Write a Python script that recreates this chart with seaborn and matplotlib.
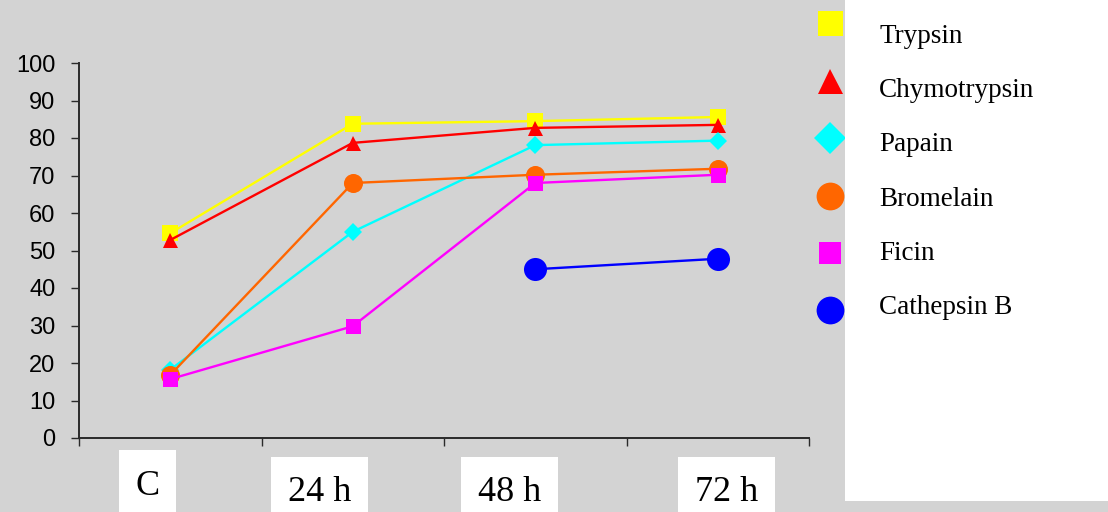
import numpy as np
import pandas as pd
import matplotlib
matplotlib.use("Agg")
import matplotlib.pyplot as plt
from matplotlib.patches import Rectangle
import seaborn as sns

# Time points and measured activity (%) per enzyme
categories = ["C", "24 h", "48 h", "72 h"]
trypsin = [54.6, 83.8, 84.5, 85.6]
chymotrypsin = [52.8, 78.7, 82.7, 83.5]
papain = [18.2, 55.0, 78.1, 79.3]
bromelain = [16.8, 68.0, 70.2, 71.8]
ficin = [15.7, 29.8, 68.0, 70.2]
cathepsin_b = [np.nan, np.nan, 45.0, 47.8]

enzymes = ["Trypsin", "Chymotrypsin", "Papain", "Bromelain", "Ficin", "Cathepsin B"]
series = [trypsin, chymotrypsin, papain, bromelain, ficin, cathepsin_b]
colors = ["#FFFF00", "#FF0000", "#00FFFF", "#FF6600", "#FF00FF", "#0000FF"]
markers = ["s", "^", "D", "o", "s", "o"]
plot_msize = [12.2, 10.8, 9.2, 13.7, 10.8, 16.6]
legend_msize = [18, 18, 15.8, 20, 15.5, 20]

rows = []
for name, vals in zip(enzymes, series):
    for i, v in enumerate(vals):
        rows.append({"enzyme": name, "pos": i, "time": categories[i], "value": v})
df = pd.DataFrame(rows)

sns.set_style("ticks")
plt.rcParams["font.family"] = ["Liberation Sans", "DejaVu Sans"]

BG = "#D3D3D3"
AX = "#2a2a2a"
W, H = 1108, 512
fig = plt.figure(figsize=(W / 100, H / 100), dpi=100, facecolor=BG)
ax = fig.add_axes([79 / W, 74 / H, 730 / W, 375 / H])
ax.set_facecolor(BG)

for name, col, mk, ms in zip(enzymes, colors, markers, plot_msize):
    sub = df[df["enzyme"] == name].dropna()
    sns.lineplot(data=sub, x="pos", y="value", color=col, marker=mk,
                 markersize=ms, markeredgewidth=0, markeredgecolor=col,
                 linewidth=1.7, ax=ax, legend=False, clip_on=False)

ax.set_xlim(-0.5, len(categories) - 0.5)
ax.set_ylim(0, 100)
ax.set_xticks(np.arange(len(categories) + 1) - 0.5)
ax.set_xticklabels([])
ax.set_yticks(np.arange(0, 101, 10))
ax.set_xlabel("")
ax.set_ylabel("")
for s in ["top", "right"]:
    ax.spines[s].set_visible(False)
for s in ["left", "bottom"]:
    ax.spines[s].set_color(AX)
    ax.spines[s].set_linewidth(1.4)
ax.tick_params(axis="both", direction="out", length=6, width=1.0, color=AX)
ax.tick_params(axis="y", labelsize=17, pad=11, labelcolor="black")
ax.grid(False)

# Overlay in pixel coordinates for the label boxes and the key
ov = fig.add_axes([0, 0, 1, 1])
ov.set_xlim(0, W)
ov.set_ylim(H, 0)
ov.axis("off")

serif = ["Liberation Serif", "DejaVu Serif"]

# Category labels in white boxes beneath the axis
label_boxes = [(119, 450, 57), (271, 457, 97), (461, 457, 97), (678, 457, 97)]
label_base = [495, 500.7, 500.7, 500.7]
for cat, (bx, by, bw), yb in zip(categories, label_boxes, label_base):
    ov.add_patch(Rectangle((bx, by), bw, H - by + 5, facecolor="white",
                           edgecolor="none", zorder=2))
    ov.text(bx + bw / 2, yb, cat, ha="center", va="baseline", fontsize=26,
            family=serif, color="black", zorder=3)

# Key: markers sit at the edge of a white panel holding the names
for i, (name, col, mk, ms) in enumerate(zip(enzymes, colors, markers, legend_msize)):
    ov.plot([830], [23.3 + 57.4 * i], marker=mk, markersize=ms, color=col,
            markeredgewidth=0, linestyle="none", zorder=1, clip_on=False)
    ov.text(879, 42.7 + 54.3 * i, name, ha="left", va="baseline", fontsize=19.5,
            family=serif, color="black", zorder=3)
ov.add_patch(Rectangle((845, -5), W - 845 + 5, 500.7 + 5, facecolor="white",
                       edgecolor="none", zorder=2))

fig.savefig("out.png", dpi=100, facecolor=BG)
